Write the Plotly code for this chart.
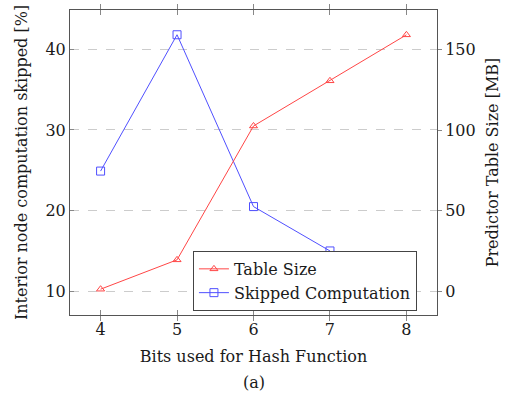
import plotly.graph_objects as go

bits = [4, 5, 6, 7, 8]
table_size_mb = [1.3, 19.5, 102.5, 130.5, 159.0]
bits_skipped = [4, 5, 6, 7]
skipped_pct = [24.9, 41.8, 20.5, 15.0]

FONT = "DejaVu Serif"
FS = 16
AXC = "#555555"
TXT = "#1a1a1a"

fig = go.Figure()
fig.add_trace(go.Scatter(
    x=bits, y=table_size_mb, name="Table Size", yaxis="y2",
    mode="lines+markers",
    line=dict(color="rgb(255,70,70)", width=1),
    marker=dict(symbol="triangle-up-open", size=7, color="rgb(255,70,70)"),
))
fig.add_trace(go.Scatter(
    x=bits_skipped, y=skipped_pct, name="Skipped Computation", yaxis="y",
    mode="lines+markers",
    line=dict(color="rgb(80,80,255)", width=1),
    marker=dict(symbol="square-open", size=8, color="rgb(80,80,255)"),
))

fig.update_layout(
    width=505, height=396,
    margin=dict(l=70, r=68, t=10, b=81, autoexpand=False),
    plot_bgcolor="white", paper_bgcolor="white",
    font=dict(family=FONT, size=FS, color=TXT),
    showlegend=True,
    legend=dict(
        x=0.335, y=0.21, xanchor="left", yanchor="top",
        bgcolor="white", bordercolor="#444444", borderwidth=1,
        font=dict(family=FONT, size=FS, color=TXT),
        tracegroupgap=0, itemwidth=30,
    ),
    xaxis=dict(
        range=[3.6, 8.4], tickvals=bits, ticktext=[str(b) for b in bits],
        showline=True, linecolor=AXC, linewidth=1, mirror="allticks",
        ticks="inside", ticklen=5, tickcolor="#888888",
        showgrid=False, zeroline=False, automargin=False,
        title=dict(text="Bits used for Hash Function", standoff=12,
                   font=dict(family=FONT, size=FS)),
        tickfont=dict(family=FONT, size=FS),
    ),
    yaxis=dict(
        range=[7.06, 44.87], tickvals=[10, 20, 30, 40],
        showline=True, linecolor=AXC, linewidth=1,
        ticks="inside", ticklen=4, tickcolor="#888888",
        showgrid=True, gridcolor="#cccccc", griddash="dash", gridwidth=1,
        zeroline=False, automargin=False,
        title=dict(text="Interior node computation skipped [%]", standoff=13,
                   font=dict(family=FONT, size=FS)),
        tickfont=dict(family=FONT, size=FS),
    ),
    yaxis2=dict(
        range=[-14.7, 174.4], tickvals=[0, 50, 100, 150],
        overlaying="y", side="right",
        showline=True, linecolor=AXC, linewidth=1,
        ticks="outside", ticklen=4, tickcolor="#888888",
        showgrid=False, zeroline=False, automargin=False,
        title=dict(text="Predictor Table Size [MB]", standoff=12,
                   font=dict(family=FONT, size=FS)),
        tickfont=dict(family=FONT, size=FS),
    ),
    annotations=[dict(
        text="(a)", x=0.5, y=-0.22, xref="paper", yref="paper",
        xanchor="center", yanchor="middle", showarrow=False,
        font=dict(family=FONT, size=FS),
    )],
)

fig.write_html("out.html")
